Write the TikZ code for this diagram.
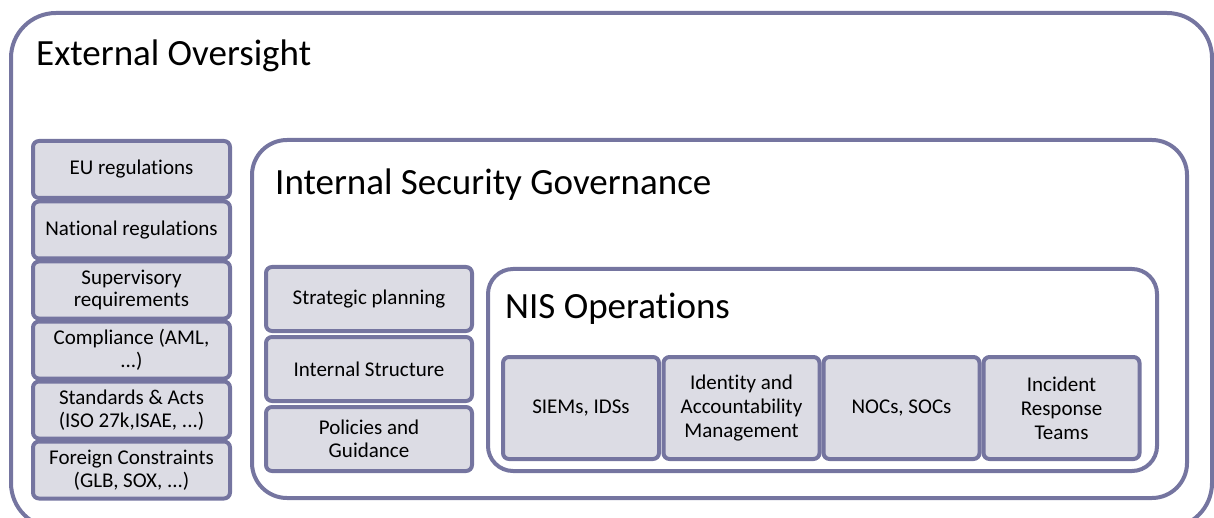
\documentclass[tikz,border=0pt]{standalone}
\usepackage{fontspec}
\setmainfont{Carlito}[Ligatures=NoCommon]
\usepackage{tikz}
\definecolor{frame}{RGB}{117,117,160}
\definecolor{boxfill}{RGB}{220,220,228}
\tikzstyle{area}=[draw=frame, line width=4pt, rounded corners=35pt]
\tikzstyle{item}=[rectangle, draw=frame, fill=boxfill, line width=4pt, rounded corners=6pt, align=center, inner sep=0pt, font=\fontsize{21}{22.5}\selectfont]
\tikzstyle{title}=[anchor=base west, inner sep=0pt, font=\fontsize{37}{42}\selectfont]

\begin{document}
\begin{tikzpicture}[x=1pt, y=-1pt]
                    \useasboundingbox (0,0) rectangle (1214,518);
                    % frames
                    \draw[area, rounded corners=45pt] (11,13) rectangle (1212,528);
                    \draw[area] (252,140) rectangle (1187,498);
                    \draw[area, rounded corners=25pt] (488,269) rectangle (1157,471);
                    \node[title] (ext) at (36,66) {External Oversight};
                    \node[title] (isg) at (275,195) {Internal Security Governance};
                    \node[title] (nis) at (505,318) {NIS Operations};
                    % external column
                    \node[item, minimum width=197pt, minimum height=57pt] (e1) at (131.5,169.5) {EU regulations};
                    \node[item, minimum width=197pt, minimum height=57pt] (e2) at (131.5,230) {National regulations};
                    \node[item, minimum width=197pt, minimum height=57pt] (e3) at (131.5,290) {Supervisory\\requirements};
                    \node[item, minimum width=197pt, minimum height=57pt] (e4) at (131.5,350) {Compliance (AML,\\...)};
                    \node[item, minimum width=197pt, minimum height=57pt] (e5) at (131.5,410) {Standards \& Acts\\(ISO 27k,ISAE, ...)};
                    \node[item, minimum width=197pt, minimum height=57pt] (e6) at (131.5,470) {Foreign Constraints\\(GLB, SOX, ...)};
                    % governance column
                    \node[item, minimum width=206pt, minimum height=64pt] (g1) at (369,299) {Strategic planning};
                    \node[item, minimum width=206pt, minimum height=64pt] (g2) at (369,369) {Internal Structure};
                    \node[item, minimum width=206pt, minimum height=64pt] (g3) at (369,439) {Policies and\\Guidance};
                    % operations row
                    \node[item, minimum width=156pt, minimum height=102pt] (o1) at (581,408) {SIEMs, IDSs};
                    \node[item, minimum width=156pt, minimum height=102pt, font=\fontsize{21}{24}\selectfont] (o2) at (741.5,408) {Identity and\\Accountability\\Management};
                    \node[item, minimum width=156pt, minimum height=102pt] (o3) at (901.5,408) {NOCs, SOCs};
                    \node[item, minimum width=156pt, minimum height=102pt, font=\fontsize{21}{24}\selectfont] (o4) at (1061.5,408) {Incident\\Response\\Teams};
                \end{tikzpicture}
\end{document}
